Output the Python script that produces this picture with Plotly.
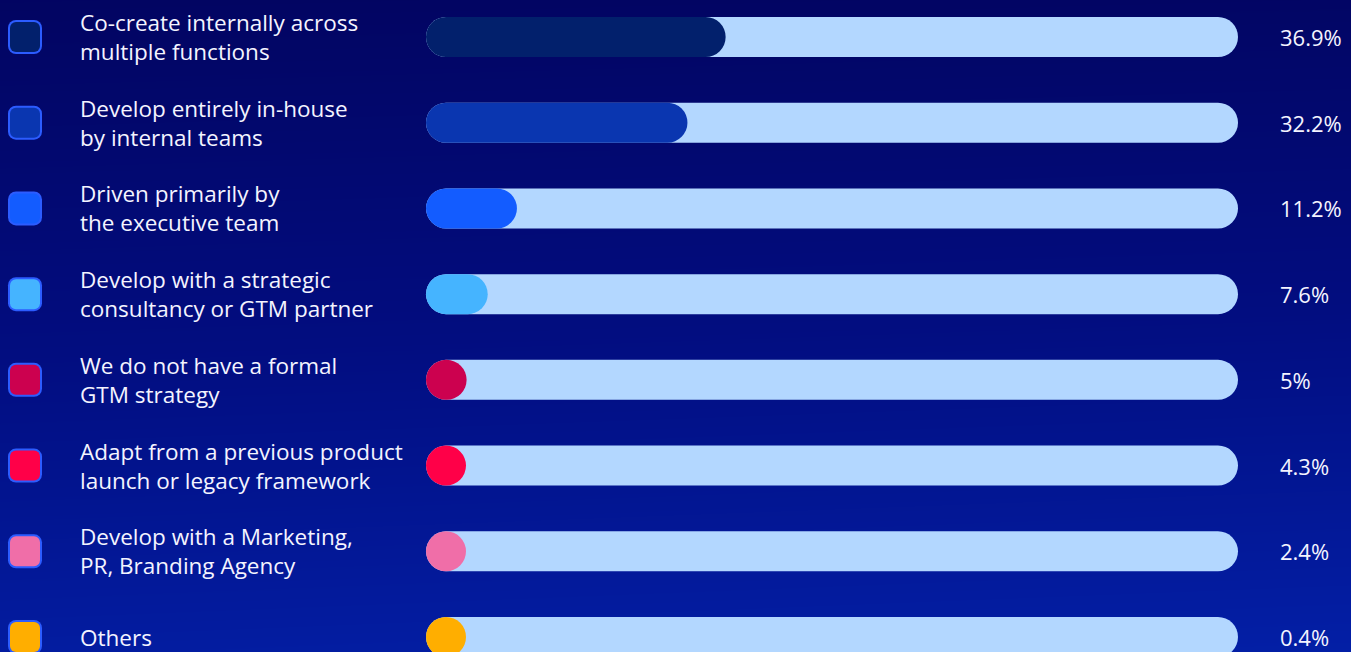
import plotly.graph_objects as go

# ---------------- data ----------------
categories = [
    "Co-create internally across<br>multiple functions",
    "Develop entirely in-house<br>by internal teams",
    "Driven primarily by<br>the executive team",
    "Develop with a strategic<br>consultancy or GTM partner",
    "We do not have a formal<br>GTM strategy",
    "Adapt from a previous product<br>launch or legacy framework",
    "Develop with a Marketing,<br>PR, Branding Agency",
    "Others",
]
values = [36.9, 32.2, 11.2, 7.6, 5, 4.3, 2.4, 0.4]
value_labels = ["36.9%", "32.2%", "11.2%", "7.6%", "5%", "4.3%", "2.4%", "0.4%"]
colors = ["#02206c", "#0a36b0", "#135cff", "#45b4ff",
          "#cc014f", "#ff0048", "#f06ea8", "#ffae00"]

# ---------------- layout geometry / style ----------------
W, H = 1351, 652
TRACK_L, TRACK_R = 426, 1238          # pixel extent of the 0..100 track
PX = (TRACK_R - TRACK_L) / 100.0      # pixels per percentage point
ROW_FIRST, ROW_LAST = 37, 637         # pixel centres of first/last row
n = len(categories)
ROW_PX = (ROW_LAST - ROW_FIRST) / (n - 1)
x_range = [-TRACK_L / PX, (W - TRACK_L) / PX]
y_range = [(H - ROW_FIRST) / ROW_PX, -ROW_FIRST / ROW_PX]
rows = list(range(n))

BAR_H = 40 / ROW_PX
MIN_FILL = 40 / PX                    # fill never narrower than a circle
TRACK_COLOR = "#b3d7ff"
TEXT_COLOR = "#f4f4ff"
FONT = "Open Sans"
SW_LEFT = (8 - TRACK_L) / PX
SW_OUT, SW_IN = 34, 30               # swatch sizes (px)
SW_BORDER = "#2c5cff"

fig = go.Figure()

# background gradient
fig.add_trace(go.Heatmap(
    x=[x_range[0] - 5, x_range[1] + 5],
    y=[y_range[1] - 0.2, y_range[0] + 0.2],
    z=[[0.0, 0.05], [0.92, 1.0]],
    colorscale=[[0, "#020460"], [0.5, "#020d80"], [1, "#0320a8"]],
    zsmooth="best", showscale=False, hoverinfo="skip",
))

def bars(base, length, width, color, radius):
    fig.add_trace(go.Bar(
        y=rows, x=length, base=base, width=width, orientation="h",
        marker=dict(color=color, cornerradius=radius, line=dict(width=0)),
        hoverinfo="skip", showlegend=False,
    ))

# track
bars([0] * n, [100] * n, BAR_H, TRACK_COLOR, 20)
# fill
bars([0] * n, [max(v, MIN_FILL) for v in values], BAR_H, colors, 20)
# swatches (border then fill)
bars([SW_LEFT] * n, [SW_OUT / PX] * n, SW_OUT / ROW_PX, SW_BORDER, 8)
bars([SW_LEFT + (SW_OUT - SW_IN) / 2 / PX] * n, [SW_IN / PX] * n,
     SW_IN / ROW_PX, colors, 6)

annotations = []
for i, (cat, vl) in enumerate(zip(categories, value_labels)):
    annotations.append(dict(
        x=78 / W, xref="paper", y=i, yref="y", text=cat, showarrow=False,
        xanchor="left", yanchor="middle", align="left",
        font=dict(family=FONT, size=22.5, color=TEXT_COLOR)))
    annotations.append(dict(
        x=1278 / W, xref="paper", y=i, yref="y", text=vl, showarrow=False,
        xanchor="left", yanchor="middle", align="left",
        font=dict(family=FONT, size=22, color=TEXT_COLOR)))

fig.update_layout(
    width=W, height=H, barmode="overlay",
    margin=dict(l=0, r=0, t=0, b=0, pad=0),
    paper_bgcolor="#020460", plot_bgcolor="#020460",
    xaxis=dict(range=x_range, visible=False, fixedrange=True),
    yaxis=dict(range=y_range, visible=False, fixedrange=True),
    annotations=annotations, showlegend=False,
)

fig.write_html("out.html", config={"displayModeBar": False},
               post_script="document.body.style.margin='0';"
                           "document.body.style.overflow='hidden';")
